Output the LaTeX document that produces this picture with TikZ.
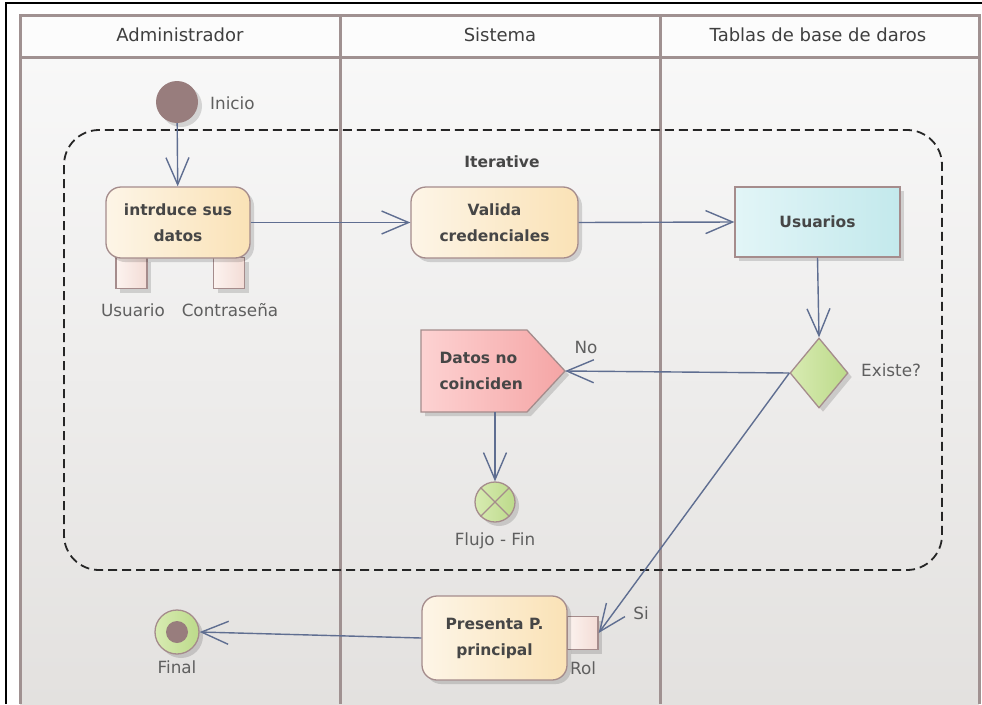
\documentclass[tikz,border=0pt]{standalone}
\usepackage{fontspec}
\setmainfont{DejaVu Sans}
\usetikzlibrary{arrows.meta,shapes.geometric,shadows}

\definecolor{laneC}{RGB}{160,145,145}
\definecolor{hdrC}{RGB}{252,252,252}
\definecolor{bodyTop}{RGB}{248,248,248}
\definecolor{bodyBot}{RGB}{227,225,223}
\definecolor{flowC}{RGB}{95,110,145}
\definecolor{borderC}{RGB}{165,140,140}
\definecolor{actL}{RGB}{253,245,231}
\definecolor{actR}{RGB}{250,226,182}
\definecolor{usrL}{RGB}{226,245,247}
\definecolor{usrR}{RGB}{195,233,236}
\definecolor{grnL}{RGB}{216,235,178}
\definecolor{grnR}{RGB}{188,218,138}
\definecolor{pinkL}{RGB}{253,210,210}
\definecolor{pinkR}{RGB}{245,165,165}
\definecolor{pinL}{RGB}{252,243,239}
\definecolor{pinR}{RGB}{243,220,214}
\definecolor{initC}{RGB}{152,125,125}
\definecolor{txtC}{RGB}{70,70,70}
\definecolor{lblC}{RGB}{95,95,95}

\tikzset{
  lane/.style={draw=laneC, line width=3pt},
  sh/.style={drop shadow={shadow xshift=4pt, shadow yshift=-4pt, fill=black, opacity=0.14}},
  boldtxt/.style={text=txtC, font=\bfseries\fontsize{15.5}{26}\selectfont, align=center},
  lbl/.style={text=lblC, font=\fontsize{16.8}{20}\selectfont, inner sep=0pt},
  hdrtxt/.style={text=txtC!90!black, font=\fontsize{18}{22}\selectfont},
  act/.style={boldtxt, sh, rounded corners=15pt, draw=borderC, line width=1.3pt,
    left color=actL, right color=actR, inner sep=0pt},
  pinbox/.style={sh, draw=borderC, line width=1.3pt, left color=pinL, right color=pinR,
    minimum width=31pt, minimum height=31pt, inner sep=0pt},
  flow/.style={draw=flowC, line width=1.4pt,
    -{Straight Barb[length=27pt, width=23pt, line width=1.4pt]}},
  greenball/.style={circle, sh, draw=borderC, line width=1.3pt, left color=grnL, right color=grnR, inner sep=0pt},
}

\begin{document}
\begin{tikzpicture}[x=1pt,y=-1pt]
\useasboundingbox (0,0) rectangle (982,704);
\fill[white] (0,0) rectangle (982,704);

% swimlane background
\fill[hdrC] (20,15) rectangle (979,57);
\shade[top color=bodyTop, bottom color=bodyBot] (20,57) rectangle (979,704);

% swimlane borders
\draw[lane] (20,704) -- (20,15) -- (979,15) -- (979,704);
\draw[lane] (20,57) -- (979,57);
\draw[lane] (340,15) -- (340,704);
\draw[lane] (660,15) -- (660,704);

% outer frame
\draw[black, line width=2pt] (5.5,704) -- (5.5,2.5) -- (982,2.5);

% lane titles
\node[hdrtxt] (h1) at (180,35) {Administrador};
\node[hdrtxt] (h2) at (500,35) {Sistema};
\node[hdrtxt] (h3) at (818,35) {Tablas de base de daros};

% iterative region
\draw[black!85, line width=1.8pt, dash pattern=on 9pt off 5pt, rounded corners=35pt]
  (64,130) rectangle (942,570);
\node[boldtxt] (iter) at (502,162) {Iterative};

% start node
\node[circle, sh, fill=initC, minimum size=42pt, inner sep=0pt] (inicio) at (177,102) {};
\node[lbl, anchor=west] (inicioL) at (210,103) {Inicio};

% first action with its input pins
\node[pinbox] (pu) at (131.5,273) {};
\node[pinbox] (pc) at (229,273) {};
\node[act, minimum width=144pt, minimum height=71pt] (intr) at (178,222.5) {intrduce sus\\datos};
\node[lbl] (puL) at (133,310) {Usuario};
\node[lbl] (pcL) at (230,310) {Contraseña};

% validation
\node[act, minimum width=167pt, minimum height=71pt] (valida) at (494.5,222.5) {Valida\\credenciales};

% table
\node[rectangle, sh, draw=borderC, line width=1.3pt, left color=usrL, right color=usrR,
  boldtxt, minimum width=165pt, minimum height=70pt, inner sep=0pt] (usuarios) at (817.5,222) {Usuarios};

% decision
\node[diamond, sh, draw=borderC, line width=1.3pt, left color=grnL, right color=grnR,
  minimum width=58pt, minimum height=70pt, inner sep=0pt] (existe) at (819,373) {};
\node[lbl, anchor=west] (existeL) at (861,370) {Existe?};

% signal: data mismatch
\fill[black, opacity=0.14, shift={(4,4)}] (421,330) -- (527,330) -- (565,371) -- (527,412) -- (421,412) -- cycle;
\draw[draw=borderC, line width=1.3pt, left color=pinkL, right color=pinkR]
  (421,330) -- (527,330) -- (565,371) -- (527,412) -- (421,412) -- cycle;
\node[boldtxt, align=left, anchor=west] (datos) at (436,371) {Datos no\\coinciden};
\coordinate (datosTip) at (565,371);
\coordinate (datosBot) at (495,412);

% flow final
\node[greenball, minimum size=40pt] (flujo) at (495,502) {};
\draw[borderC, line width=1.3pt] (flujo.north west) -- (flujo.south east)
  (flujo.north east) -- (flujo.south west);
\node[lbl] (flujoL) at (495,541) {Flujo - Fin};

% main page action with output pin
\node[pinbox, minimum width=31pt, minimum height=33pt] (rol) at (582.5,633) {};
\node[act, minimum width=145pt, minimum height=84pt] (presenta) at (494.5,638) {Presenta P.\\principal};
\node[lbl] (rolL) at (583,668) {Rol};

% activity final
\node[greenball, minimum size=44pt] (final) at (177,632) {};
\fill[initC] (final) circle (11pt);
\node[lbl] (finalL) at (177,667) {Final};

% connectors
\draw[flow] (inicio) -- (intr);
\draw[flow] (intr.east) -- (valida.west);
\draw[flow] (valida.east) -- (usuarios.west);
\draw[flow] (usuarios.south) -- (existe.north);
\draw[flow] (existe.west) -- (datosTip);
\node[lbl] (noL) at (586,347) {No};
\draw[flow] (datosBot) -- (flujo.north);
\draw[flow] (existe.west) -- (rol.east);
\node[lbl] (siL) at (641,613) {Si};
\draw[flow] (presenta.west) -- (final.east);
\end{tikzpicture}
\end{document}
